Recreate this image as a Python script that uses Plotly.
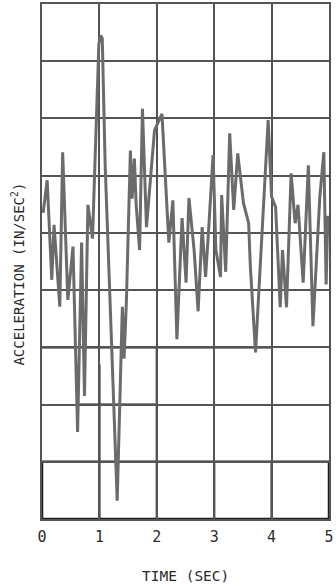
import plotly.graph_objects as go

# Time (s) and acceleration (grid units)
time_s = [0.02, 0.09, 0.17, 0.21, 0.31, 0.36, 0.45, 0.54, 0.62, 0.69, 0.74, 0.80,
          0.88, 0.99, 1.02, 1.05, 1.10, 1.31, 1.40, 1.43, 1.47, 1.54, 1.57, 1.61,
          1.64, 1.70, 1.75, 1.82, 1.96, 2.09, 2.21, 2.28, 2.35, 2.44, 2.51, 2.56,
          2.65, 2.72, 2.79, 2.85, 2.91, 2.98, 3.03, 3.11, 3.13, 3.20, 3.27, 3.34,
          3.41, 3.51, 3.60, 3.63, 3.72, 3.81, 3.89, 3.94, 4.00, 4.07, 4.15, 4.19,
          4.26, 4.34, 4.41, 4.46, 4.55, 4.64, 4.72, 4.81, 4.84, 4.91, 4.95, 4.98]
accel = [0.35, 0.92, -0.82, 0.14, -1.29, 1.41, -1.17, -0.24, -3.48, -0.17, -2.85, 0.49,
         -0.10, 3.30, 3.45, 3.40, 1.20, -4.68, -1.29, -2.20, -1.20, 1.44, 0.60, 1.30,
         0.50, -0.30, 2.17, 0.10, 1.79, 2.08, -0.17, 0.57, -1.86, 0.26, -0.87, 0.61,
         -0.30, -1.37, 0.10, -0.77, 0.17, 1.36, -0.30, -0.77, 0.66, -0.68, 1.74, 0.40,
         1.39, 0.52, 0.17, -0.59, -2.09, -0.42, 0.87, 1.97, 0.63, 0.45, -1.30, -0.30,
         -1.30, 1.04, 0.17, 0.49, -0.87, 1.18, -1.63, 0.10, 0.63, 1.41, -0.90, 0.30]

x_ticks = [0, 1, 2, 3, 4, 5]
y_grid = [-5, -4, -3, -2, -1, 0, 1, 2, 3, 4]

FONT = "DejaVu Sans Mono"
GRID = "#545454"
INK = "#1e1e1e"
TEXT = "#2a2a2a"

fig = go.Figure()
fig.add_trace(go.Scatter(x=time_s, y=accel, mode="lines",
                         line=dict(color="#6b6b6b", width=3), hoverinfo="skip",
                         showlegend=False))

# darker ink lines in the lower part of the chart paper
shapes = [
    dict(type="rect", x0=0, x1=5, y0=-5, y1=-4, line=dict(color=INK, width=2.5)),
    dict(type="line", x0=0, x1=4, y0=-2, y1=-2, line=dict(color=INK, width=2.2)),
    dict(type="line", x0=0.6, x1=2, y0=-3, y1=-3, line=dict(color=INK, width=2.2)),
    dict(type="line", x0=1, x1=1, y0=-5, y1=-2.3, line=dict(color=INK, width=2.2)),
    dict(type="line", x0=2, x1=2, y0=-5, y1=-2, line=dict(color=INK, width=2.2)),
    dict(type="line", x0=3, x1=3, y0=-5, y1=-4, line=dict(color=INK, width=2.2)),
    dict(type="line", x0=4, x1=4, y0=-5, y1=-4, line=dict(color=INK, width=2.2)),
]
for s in shapes:
    s["xref"] = "x"
    s["yref"] = "y"
    s["layer"] = "below"

fig.update_layout(
    width=336, height=586,
    margin=dict(l=42, r=5, t=2, b=67),
    paper_bgcolor="white", plot_bgcolor="white",
    font=dict(family=FONT, color=TEXT),
    shapes=shapes,
    xaxis=dict(range=[0, 5], tickvals=x_ticks, ticktext=[str(v) for v in x_ticks],
               showgrid=True, gridcolor=GRID, gridwidth=2, zeroline=False,
               showline=True, linecolor=GRID, linewidth=2, mirror=True,
               ticks="", tickfont=dict(family=FONT, size=15, color=TEXT),
               ticklabelstandoff=3),
    yaxis=dict(range=[-5, 4], tickvals=y_grid, showticklabels=False,
               showgrid=True, gridcolor=GRID, gridwidth=2, zeroline=False,
               showline=True, linecolor=GRID, linewidth=2, mirror=True, ticks=""),
    annotations=[
        dict(text="TIME (SEC)", xref="paper", yref="paper", x=0.5, y=-0.11,
             xanchor="center", yanchor="middle", showarrow=False,
             font=dict(family=FONT, size=14.5, color=TEXT)),
        dict(text="ACCELERATION (IN/SEC<sup>2</sup>)", xref="paper", yref="paper",
             x=-0.083, y=0.475, xanchor="center", yanchor="middle", textangle=-90,
             showarrow=False, font=dict(family=FONT, size=14, color=TEXT)),
    ],
)

fig.write_html("out.html", config={"displayModeBar": False},
               post_script="document.body.style.margin='0';")
